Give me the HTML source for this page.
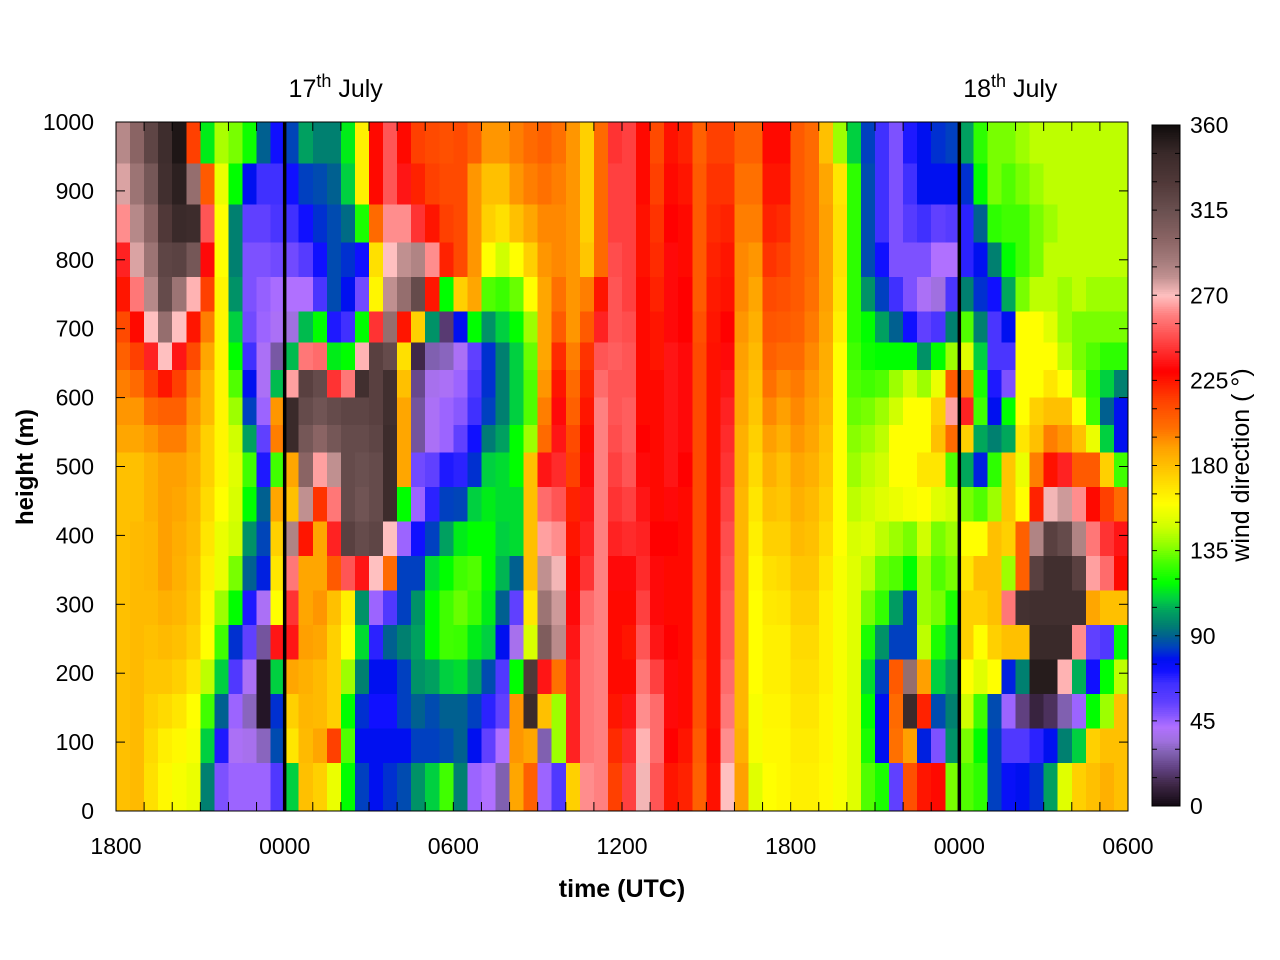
<!DOCTYPE html>
<html><head><meta charset="utf-8"><style>
html,body{margin:0;padding:0;background:#fff;}
svg{display:block;font-family:"Liberation Sans",Arial,sans-serif;}
</style></head><body>
<svg id="chart" width="1280" height="960" viewBox="0 0 1280 960" xmlns="http://www.w3.org/2000/svg">
<rect x="0" y="0" width="1280" height="960" fill="#fff"/>
<g id="cells" shape-rendering="crispEdges"></g>
<g id="cbar" shape-rendering="crispEdges"></g>
<g id="axes"></g>
</svg>
<script>
var stepHours = 0.5;
var heights = [1000,940,880,825,775,725,680,640,600,560,520,470,420,370,320,270,220,170,120,70,0];
var profiles = [
[283,276,262,238,225,212,205,197,192,188,180,180,180,180,180,180,180,180,180,180],
[300,292,283,276,258,228,215,202,192,188,180,180,182,182,182,182,182,182,182,182],
[322,310,300,292,283,270,238,215,202,192,185,185,183,183,182,180,178,175,172,170],
[342,340,330,322,318,295,270,225,205,197,190,190,190,190,185,182,178,172,165,162],
[355,350,345,324,292,270,235,215,205,197,190,188,186,185,183,180,175,168,162,158],
[215,295,343,310,268,225,212,197,192,188,185,183,182,180,178,175,168,160,158,155],
[115,207,250,232,215,197,188,182,182,175,175,172,168,165,162,160,145,128,110,96],
[142,155,160,160,163,163,163,163,163,163,163,160,155,155,140,128,110,90,70,50],
[135,118,96,96,100,110,118,130,140,148,152,150,148,135,118,82,60,45,40,45],
[120,78,55,50,50,52,65,78,84,103,128,118,100,90,70,55,40,30,38,45],
[90,65,55,50,46,45,40,40,45,55,70,90,85,80,40,25,5,5,30,45],
[72,65,62,52,43,40,26,107,192,197,128,188,175,168,160,235,110,82,86,60],
[85,72,65,52,42,35,107,265,345,345,188,180,285,258,242,235,188,175,168,110],
[103,84,72,58,42,107,258,325,318,310,300,280,225,188,188,190,185,183,182,180],
[96,86,82,72,62,118,255,318,312,300,265,218,188,188,192,188,182,182,188,175],
[96,90,86,86,86,70,115,242,318,310,280,258,238,207,180,175,175,175,215,155],
[115,110,92,82,78,65,118,258,322,318,318,318,325,250,165,160,140,118,130,118],
[165,165,122,72,52,118,268,340,322,318,315,312,318,235,100,112,96,82,78,84],
[228,228,202,170,163,242,325,325,325,322,318,318,322,270,45,68,78,72,78,78],
[250,250,262,270,280,295,318,340,340,343,343,343,270,202,60,90,78,72,78,82],
[228,235,262,280,295,225,170,180,188,188,188,118,45,84,84,96,84,84,78,86],
[215,222,242,285,318,175,12,22,25,25,52,45,72,84,100,103,100,90,84,100],
[212,215,225,262,225,100,28,38,40,40,55,68,84,112,118,118,103,86,84,110],
[210,212,215,222,118,18,30,40,45,45,70,84,103,118,128,128,110,90,86,128],
[212,212,212,212,175,78,40,45,48,55,68,85,115,128,133,127,112,90,90,96],
[205,192,192,192,188,118,55,60,65,72,82,110,118,130,128,115,103,84,78,45],
[192,180,175,160,130,100,82,82,84,95,110,115,118,118,115,110,86,68,55,42],
[192,180,170,148,127,110,96,96,96,103,112,112,110,106,90,78,60,55,42,28],
[197,192,180,160,133,118,110,110,110,118,118,112,112,90,55,38,118,192,192,188],
[202,197,188,175,160,140,133,130,130,140,180,180,180,180,168,150,330,345,188,205],
[205,200,195,192,188,188,188,192,197,202,235,255,265,280,292,305,235,180,28,45],
[200,197,195,195,200,207,220,225,232,235,240,250,262,272,278,282,200,140,140,60],
[192,192,192,192,192,192,197,202,205,212,215,222,225,228,232,235,238,238,238,175],
[175,175,175,178,197,207,218,222,225,228,232,235,238,242,255,258,258,258,258,262],
[202,202,202,202,225,238,250,255,260,260,260,260,260,260,260,260,260,260,260,260],
[242,245,245,248,250,250,252,250,250,248,245,242,238,232,228,228,228,225,220,215],
[245,245,245,245,245,248,250,250,252,252,250,245,240,232,228,225,228,235,240,245],
[228,228,226,226,228,228,228,228,228,230,232,235,238,240,245,250,258,262,268,272],
[212,215,218,220,222,225,225,228,228,228,228,228,230,232,232,235,245,255,255,250],
[226,228,230,232,232,232,235,235,235,235,235,232,230,228,228,230,232,232,230,225],
[222,225,228,228,230,230,232,232,232,232,230,228,228,228,228,228,228,228,225,222],
[205,207,207,207,207,210,212,212,212,212,212,212,212,212,212,212,210,210,207,205],
[215,218,220,222,224,225,226,226,226,226,226,226,226,226,226,226,226,226,228,226],
[215,218,222,225,226,230,232,235,238,240,242,245,248,250,252,252,255,258,262,270],
[205,200,197,195,195,192,190,188,188,185,185,183,183,183,183,183,183,183,185,190],
[205,200,197,192,188,185,182,180,178,175,172,168,165,162,160,160,160,158,158,152],
[228,225,222,218,212,208,205,200,195,190,185,180,175,170,167,165,165,163,162,160],
[228,225,220,215,210,207,202,195,190,185,180,178,175,172,168,165,165,163,162,162],
[207,207,207,207,207,205,202,198,195,192,188,185,182,178,175,172,170,168,166,165],
[202,202,202,202,200,198,195,192,190,188,185,182,180,178,175,172,170,168,166,165],
[180,188,190,190,190,188,186,185,183,180,178,175,172,168,165,165,165,163,163,162],
[140,168,170,170,168,165,160,160,160,160,160,160,160,158,158,158,158,158,158,158],
[110,125,125,125,125,125,128,130,133,137,140,145,150,152,152,152,152,152,152,152],
[84,86,86,86,100,118,120,128,135,140,145,148,152,145,135,122,112,118,122,130],
[65,65,65,72,84,103,118,130,140,145,148,152,145,133,126,100,84,78,78,122],
[50,50,50,50,65,90,118,140,148,160,160,155,140,130,102,84,207,202,200,55],
[70,65,58,50,50,72,118,148,160,160,160,158,135,118,84,84,295,345,190,210],
[78,78,65,50,40,55,100,140,160,160,168,160,148,140,140,145,190,222,80,225],
[82,78,55,42,35,62,118,155,175,180,168,152,135,130,135,122,110,86,50,228],
[84,78,58,42,62,96,140,207,265,202,130,148,140,135,122,110,103,96,100,135],
[103,82,68,68,96,130,152,197,238,175,104,135,160,168,175,175,160,148,135,130],
[125,118,90,78,82,96,110,122,128,104,80,130,160,180,175,160,152,128,118,125],
[135,135,125,96,72,62,62,70,78,96,125,140,180,180,180,175,160,86,84,84],
[135,130,128,118,104,78,62,50,118,104,178,178,175,140,258,180,80,45,60,75],
[140,135,128,128,135,160,160,160,160,168,155,160,205,205,338,180,96,20,60,78],
[145,140,135,135,145,160,160,160,175,180,197,222,285,325,340,345,352,10,68,82],
[145,145,140,145,145,152,160,168,180,197,226,272,325,340,340,345,352,15,78,103],
[145,145,145,145,140,140,145,160,180,192,238,278,318,340,340,345,268,28,96,152],
[145,145,145,145,145,135,135,140,160,180,207,262,285,325,340,262,105,45,110,175],
[145,145,145,145,140,135,130,125,128,155,207,228,258,265,188,55,72,118,175,180],
[145,145,145,145,140,135,125,110,90,110,175,215,242,255,180,60,118,140,180,185],
[145,145,145,145,140,135,125,96,78,78,128,202,235,228,180,118,145,180,180,180]
];
var xTickLabels = ["1800","0000","0600","1200","1800","0000","0600"];
var xTickHours = [0,6,12,18,24,30,36];
var yTickValues = [0,100,200,300,400,500,600,700,800,900,1000];
var cbTickValues = [0,45,90,135,180,225,270,315,360];
var dayLineHours = [6,30];
var dayLabels = ["17th","18th"];

var stops=[[0,"100810"],[12,"402848"],[20,"604080"],[28,"8060b0"],[35,"a070e0"],[42,"b070ff"],[48,"8858ff"],[55,"6040ff"],[65,"4030ff"],[72,"1010ff"],[78,"0010f0"],[84,"0040c0"],[90,"006090"],[96,"008070"],[103,"00a060"],[110,"00d040"],[118,"00ff00"],[128,"40ff00"],[138,"90ff00"],[148,"d0ff00"],[160,"ffff00"],[170,"ffe000"],[180,"ffc000"],[190,"ffa000"],[200,"ff7000"],[215,"ff4000"],[230,"ff0000"],[245,"ff4040"],[260,"ff8080"],[270,"ffc0c0"],[275,"e0a8a8"],[280,"c09090"],[290,"a07878"],[300,"8a6464"],[315,"6a5050"],[330,"503838"],[345,"3a2a2a"],[360,"100c0c"]];
function hx(s,i){return parseInt(s.substr(i,2),16);}
function cmap(d){
  d=Math.max(0,Math.min(360,d));
  for(var i=1;i<stops.length;i++){
    if(d<=stops[i][0]){
      var a=stops[i-1],b=stops[i],t=(d-a[0])/(b[0]-a[0]);
      var r=Math.round(hx(a[1],0)+(hx(b[1],0)-hx(a[1],0))*t);
      var g=Math.round(hx(a[1],2)+(hx(b[1],2)-hx(a[1],2))*t);
      var bl=Math.round(hx(a[1],4)+(hx(b[1],4)-hx(a[1],4))*t);
      return "rgb("+r+","+g+","+bl+")";
    }
  }
  return "#100c0c";
}
var X0=116,X1=1128,Y0=811,Y1=122;
function xs(h){return X0+(X1-X0)*h/36;}
function ys(m){return Y0-(Y0-Y1)*m/1000;}
var NS="http://www.w3.org/2000/svg";
function mk(tag,attrs,parent){var e=document.createElementNS(NS,tag);for(var k in attrs)e.setAttribute(k,attrs[k]);parent.appendChild(e);return e;}

var cells=document.getElementById("cells");
for(var c=0;c<profiles.length;c++){
  var xa=xs(c*stepHours), xb=xs((c+1)*stepHours);
  for(var r=0;r<profiles[c].length;r++){
    var ya=ys(heights[r]), yb=ys(heights[r+1]);
    var el=mk("rect",{x:xa.toFixed(2),y:ya.toFixed(2),width:(xb-xa+0.6).toFixed(2),height:(yb-ya+0.6).toFixed(2),fill:cmap(profiles[c][r])},cells);
    
    
  }
}
var cb=document.getElementById("cbar");
var CBX=1152,CBW=28,CBT=125,CBB=806;
function cby(d){return CBB-(CBB-CBT)*d/360;}
for(var d=0;d<360;d+=1){
  var e=mk("rect",{x:CBX,y:cby(d+1).toFixed(2),width:CBW,height:((CBB-CBT)/360+0.6).toFixed(2),fill:cmap(d+0.5)},cb);
  
  
}
var ax=document.getElementById("axes");
var cbf=mk("rect",{x:CBX,y:CBT,width:CBW,height:CBB-CBT,fill:"none",stroke:"#000","stroke-width":1},ax);


for(var d2=0;d2<=360;d2+=15){
  var yy=cby(d2);
  mk("line",{x1:CBX,x2:CBX+5,y1:yy,y2:yy,stroke:"#000","stroke-width":1},ax);
  mk("line",{x1:CBX+CBW-5,x2:CBX+CBW,y1:yy,y2:yy,stroke:"#000","stroke-width":1},ax);
}
cbTickValues.forEach(function(v){
  var t=mk("text",{x:1190,y:cby(v)+8,"font-size":23,fill:"#000"},ax);
  t.textContent=String(v);
  
  
});
var fr=mk("rect",{x:X0,y:Y1,width:X1-X0,height:Y0-Y1,fill:"none",stroke:"#000","stroke-width":1},ax);


for(var h=0;h<=36;h++){
  var xx=xs(h);
  mk("line",{x1:xx,x2:xx,y1:Y0,y2:Y0-9,stroke:"#000","stroke-width":1},ax);
  mk("line",{x1:xx,x2:xx,y1:Y1,y2:Y1+9,stroke:"#000","stroke-width":1},ax);
}
xTickHours.forEach(function(hh,i){
  var t=mk("text",{x:xs(hh),y:854,"font-size":23,"text-anchor":"middle",fill:"#000"},ax);
  t.textContent=xTickLabels[i];
  
  
});
yTickValues.forEach(function(v){
  var yy=ys(v);
  mk("line",{x1:X0,x2:X0+9,y1:yy,y2:yy,stroke:"#000","stroke-width":1},ax);
  mk("line",{x1:X1-9,x2:X1,y1:yy,y2:yy,stroke:"#000","stroke-width":1},ax);
  var t=mk("text",{x:94,y:yy+8,"font-size":23,"text-anchor":"end",fill:"#000"},ax);
  t.textContent=String(v);
  
  
});
dayLineHours.forEach(function(hh,i){
  var l=mk("line",{x1:xs(hh),x2:xs(hh),y1:Y1,y2:Y0,stroke:"#000","stroke-width":3.5},ax);
  
  
  var t=mk("text",{x:xs(hh)+51,y:97,"font-size":25,"text-anchor":"middle",fill:"#000"},ax);
  t.appendChild(document.createTextNode(dayLabels[i].slice(0,2)));
  var ts=mk("tspan",{"font-size":18,dy:-10},t); ts.textContent=dayLabels[i].slice(2);
  var ts2=mk("tspan",{dy:10},t); ts2.textContent=" July";
  
  
});
var xt=mk("text",{x:622,y:897,"font-size":25,"font-weight":"bold","text-anchor":"middle",fill:"#000"},ax);
xt.textContent="time (UTC)";


var yt=mk("text",{x:0,y:0,"font-size":24,"font-weight":"bold","text-anchor":"middle",fill:"#000",transform:"translate(33,467) rotate(-90)"},ax);
yt.textContent="height (m)";


var ct=mk("text",{x:0,y:0,"font-size":25,"text-anchor":"middle",fill:"#000",transform:"translate(1249,465) rotate(-90)"},ax);
ct.textContent="wind direction ( \u00B0)";


</script>
</body></html>
